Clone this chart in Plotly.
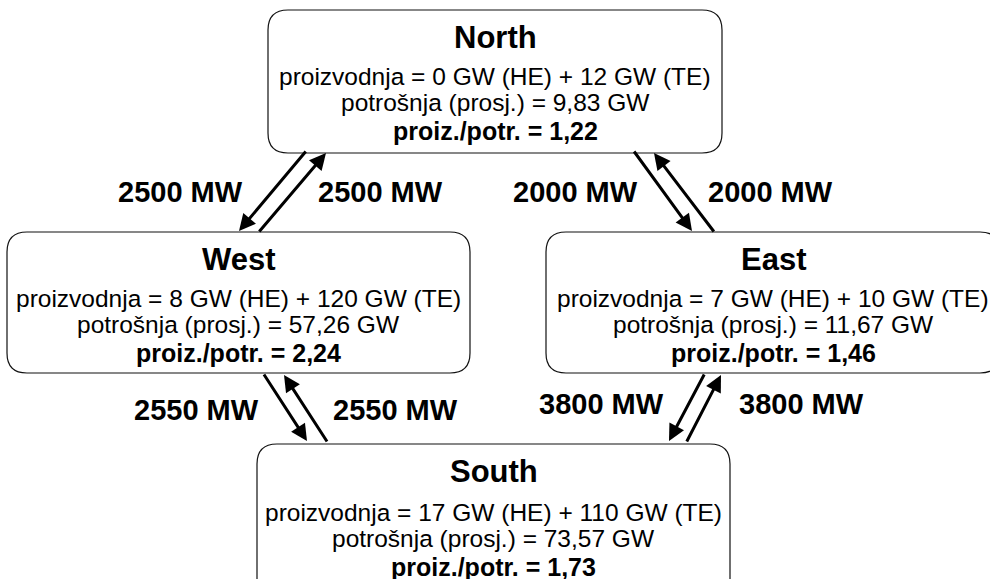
import plotly.graph_objects as go

# ---- data ----
regions = ["North", "West", "East", "South"]
hydro_gw = [0, 8, 7, 17]
thermal_gw = [12, 120, 10, 110]
consumption_gw = [9.83, 57.26, 11.67, 73.57]
ratio = [1.22, 2.24, 1.46, 1.73]

link_from = ["North", "North", "West", "East"]
link_to = ["West", "East", "South", "South"]
cap_forward_mw = [2500, 2000, 2550, 3800]
cap_backward_mw = [2500, 2000, 2550, 3800]

# ---- layout (pixel positions of the diagram) ----
W, H = 990, 579
box = {  # x0, y0, x1, y1
    "North": (268, 10, 722, 153),
    "West": (7, 232, 470, 373),
    "East": (546, 232, 1000, 373),
    "South": (257, 444, 730, 600),
}
text_shift = {"North": 0, "West": 0, "East": 0, "South": 2}
# arrow geometry for each link: (forward tail, forward head, backward tail, backward head)
arrow_geo = [
    ((307, 150), (239, 231), (258, 233), (326, 153)),
    ((633, 150), (692, 231), (715, 233), (654, 153)),
    ((263, 373), (307, 441), (328, 443), (284, 375)),
    ((705, 373), (669, 441), (686, 443), (721, 375)),
]
label_pos = [
    ((180, 192), (380, 192)),
    ((575, 192), (770, 192)),
    ((196, 410), (395, 410)),
    ((601, 404), (801, 404)),
]

FONT = "Liberation Sans, Arial, Helvetica, sans-serif"


def fmt(v):
    return f"{v:.2f}".replace(".", ",")


def rounded_path(x0, y0, x1, y1, r=20):
    return (f"M{x0+r},{y0} L{x1-r},{y0} Q{x1},{y0} {x1},{y0+r} "
            f"L{x1},{y1-r} Q{x1},{y1} {x1-r},{y1} L{x0+r},{y1} "
            f"Q{x0},{y1} {x0},{y1-r} L{x0},{y0+r} Q{x0},{y0} {x0+r},{y0} Z")


fig = go.Figure()
shapes = []
annotations = []

for i, name in enumerate(regions):
    x0, y0, x1, y1 = box[name]
    shapes.append(dict(type="path", path=rounded_path(x0, y0, x1, y1),
                       xref="x", yref="y", line=dict(color="#111", width=1.2),
                       fillcolor="white", layer="below"))
    cx = (x0 + x1) / 2
    s = text_shift[name]
    lines = [
        (f"<b>{name}</b>", 31, 27),
        (f"proizvodnja = {hydro_gw[i]} GW (HE) + {thermal_gw[i]} GW (TE)", 24.5, 66 + s),
        (f"potrošnja (prosj.) = {fmt(consumption_gw[i])} GW", 24.5, 92 + s),
        (f"<b>proiz./potr. = {fmt(ratio[i])}</b>", 25, 121 + s),
    ]
    for txt, size, dy in lines:
        annotations.append(dict(x=cx, y=y0 + dy, xref="x", yref="y", text=txt,
                                showarrow=False, xanchor="center", yanchor="middle",
                                font=dict(family=FONT, size=size, color="black")))

for k in range(len(link_from)):
    ft, fh, bt, bh = arrow_geo[k]
    for (tail, head) in ((ft, fh), (bt, bh)):
        annotations.append(dict(x=head[0], y=head[1], ax=tail[0], ay=tail[1],
                                xref="x", yref="y", axref="x", ayref="y",
                                text="", showarrow=True, arrowhead=2, arrowsize=1.1,
                                arrowwidth=3, arrowcolor="black", standoff=0,
                                startstandoff=0))
    (lx, ly), (rx, ry) = label_pos[k]
    for (px, py), val in (((lx, ly), cap_forward_mw[k]), ((rx, ry), cap_backward_mw[k])):
        annotations.append(dict(x=px, y=py, xref="x", yref="y", text=f"<b>{val} MW</b>",
                                showarrow=False, xanchor="center", yanchor="middle",
                                font=dict(family=FONT, size=29, color="black")))

fig.update_layout(
    width=W, height=H, margin=dict(l=0, r=0, t=0, b=0),
    paper_bgcolor="white", plot_bgcolor="white",
    xaxis=dict(range=[0, W], visible=False, fixedrange=True),
    yaxis=dict(range=[H, 0], visible=False, fixedrange=True),
    shapes=shapes, annotations=annotations, showlegend=False,
)
fig.write_html("out.html", config={"displayModeBar": False},
               post_script="document.body.style.margin='0';document.body.style.overflow='hidden';")
